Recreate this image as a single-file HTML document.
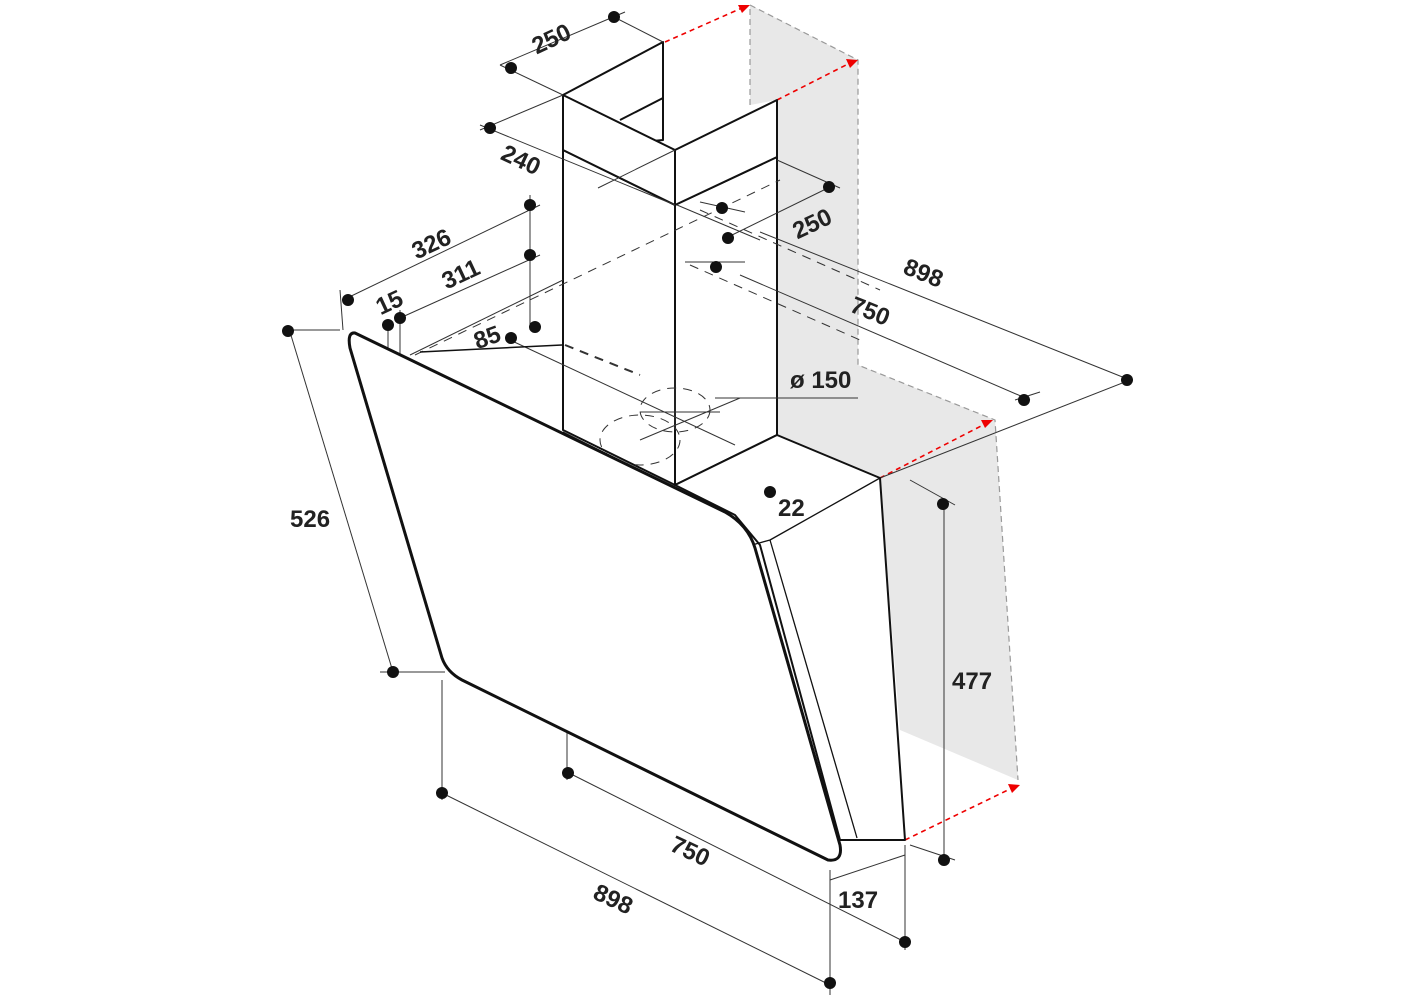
<!DOCTYPE html>
<html><head><style>body{margin:0;background:#fff}svg{display:block}text{font-family:"Liberation Sans",sans-serif;font-weight:bold;font-size:24px;fill:#222}</style></head><body>
<svg width="1425" height="1000" viewBox="0 0 1425 1000" xmlns="http://www.w3.org/2000/svg">
<polygon points="750,5 858,60 858,365 995,420 1018,780 900,730 880,480 777,435 777,100 750,105" fill="#e8e8e8"/>
<g stroke="#999" stroke-dasharray="6,4" fill="none" stroke-width="1.2">
<polyline points="750,105 750,5 858,60 858,365 995,420 1018,780"/>
</g>
<g stroke="#e00" stroke-width="1.6" stroke-dasharray="5,4" fill="none">
<line x1="665" y1="42" x2="742" y2="8"/><line x1="777" y1="100" x2="850" y2="63"/>
<line x1="880" y1="478" x2="985" y2="424"/><line x1="905" y1="840" x2="1012" y2="788"/>
</g>
<g fill="#e00"><polygon points="750,5 738,5 742,13"/><polygon points="858,60 846,59 850,68"/><polygon points="993,420 981,420 985,428"/><polygon points="1020,785 1008,784 1012,793"/></g>
<!-- chimney (transparent) -->
<g stroke="#111" stroke-width="2" fill="none" stroke-linejoin="round">
<polygon points="563,95 663,42 663,140 563,150" fill="#fff"/>
<polygon points="563,150 675,205 675,485 563,430"/>
<polygon points="675,205 777,157 777,435 675,485"/>
<polygon points="563,95 675,150 675,205 563,150" fill="#fff"/>
<polygon points="675,150 777,100 777,157 675,205" fill="#fff"/>
<line x1="620" y1="120" x2="663" y2="98"/>
</g>
<!-- thin dimension lines -->
<g stroke="#333" stroke-width="1" fill="none">
<line x1="500" y1="65" x2="625" y2="12"/><line x1="500" y1="65" x2="563" y2="95"/><line x1="610" y1="15" x2="663" y2="42"/>
<line x1="480" y1="130" x2="563" y2="95"/><line x1="480" y1="125" x2="675" y2="205"/>
<line x1="598" y1="188" x2="675" y2="150"/>
<line x1="777" y1="160" x2="840" y2="188"/><line x1="728" y1="237" x2="830" y2="187"/>
<line x1="677" y1="205" x2="760" y2="240"/><line x1="700" y1="202" x2="745" y2="212"/><line x1="760" y1="232" x2="1130" y2="380"/>
<line x1="685" y1="262" x2="745" y2="262"/>
<line x1="740" y1="275" x2="1030" y2="400"/>
<line x1="343" y1="300" x2="540" y2="205"/><line x1="400" y1="318" x2="540" y2="255"/>
<line x1="530" y1="195" x2="530" y2="330"/>
<line x1="340" y1="290" x2="343" y2="330"/>
<line x1="388" y1="325" x2="388" y2="360"/><line x1="400" y1="310" x2="400" y2="365"/>
<line x1="410" y1="355" x2="563" y2="280" /><line x1="510" y1="340" x2="735" y2="445"/>
<line x1="285" y1="330" x2="340" y2="330"/><line x1="290" y1="332" x2="393" y2="672"/><line x1="380" y1="672" x2="445" y2="672"/>
<line x1="442" y1="680" x2="442" y2="800"/><line x1="442" y1="793" x2="830" y2="985"/>
<line x1="830" y1="870" x2="830" y2="995"/><line x1="567" y1="690" x2="567" y2="780"/>
<line x1="567" y1="772" x2="905" y2="942"/><line x1="905" y1="845" x2="905" y2="950"/>
<line x1="830" y1="880" x2="905" y2="855"/>
<line x1="910" y1="480" x2="955" y2="505"/><line x1="944" y1="500" x2="944" y2="865"/><line x1="910" y1="845" x2="955" y2="860"/>
<line x1="770" y1="495" x2="770" y2="545"/><line x1="775" y1="540" x2="880" y2="495"/>
<line x1="880" y1="478" x2="1130" y2="380"/><line x1="1015" y1="400" x2="1040" y2="392"/>
<line x1="715" y1="398" x2="858" y2="398"/><line x1="640" y1="440" x2="740" y2="398"/>
<line x1="675" y1="360" x2="675" y2="430"/><line x1="640" y1="412" x2="720" y2="412"/>
</g>
<g stroke="#333" stroke-width="1" fill="none" stroke-dasharray="9,7">
<line x1="415" y1="355" x2="780" y2="180"/><line x1="565" y1="345" x2="640" y2="375" stroke-width="2"/>
<line x1="480" y1="667" x2="570" y2="675"/><line x1="567" y1="610" x2="570" y2="672"/>
<line x1="395" y1="360" x2="495" y2="415"/><line x1="395" y1="370" x2="480" y2="420"/>
<line x1="700" y1="210" x2="880" y2="290"/><line x1="690" y1="265" x2="860" y2="340"/>
<ellipse cx="675" cy="410" rx="35" ry="22"/><ellipse cx="640" cy="440" rx="40" ry="25"/>
</g>
<g stroke="#111" stroke-width="2" fill="#fff" stroke-linejoin="round">
<!-- hood body -->
<polygon points="675,485 777,435 880,478 905,840 840,840 760,545 735,515"/>
<line x1="770" y1="540" x2="880" y2="478" stroke-width="1.3"/>
<line x1="770" y1="540" x2="857" y2="838" stroke-width="1.3"/>
<line x1="752" y1="545" x2="770" y2="540" stroke-width="1.3"/>
<line x1="420" y1="352" x2="562" y2="345" stroke-width="1.5"/>
<!-- glass -->
<path d="M355,333 L725,512 Q748,525 755,548 L840,845 Q843,862 828,860 L462,680 Q447,672 442,658 L350,348 Q347,332 355,333 Z" stroke-width="3"/>
</g>
<g stroke="#111" stroke-width="1.2" fill="none"><line x1="563" y1="432" x2="675" y2="488"/></g>
<!-- dots -->
<g fill="#111">
<circle cx="614" cy="17" r="6"/><circle cx="511" cy="68" r="6"/><circle cx="490" cy="128" r="6"/>
<circle cx="530" cy="205" r="6"/><circle cx="530" cy="255" r="6"/><circle cx="535" cy="327" r="6"/><circle cx="511" cy="338" r="6"/>
<circle cx="348" cy="300" r="6"/><circle cx="388" cy="325" r="6"/><circle cx="400" cy="318" r="6"/>
<circle cx="288" cy="331" r="6"/><circle cx="393" cy="672" r="6"/>
<circle cx="829" cy="187" r="6"/><circle cx="722" cy="208" r="6"/><circle cx="728" cy="238" r="6"/><circle cx="716" cy="267" r="6"/>
<circle cx="1127" cy="380" r="6"/><circle cx="1024" cy="400" r="6"/>
<circle cx="770" cy="492" r="6"/><circle cx="943" cy="504" r="6"/><circle cx="944" cy="860" r="6"/>
<circle cx="442" cy="793" r="6"/><circle cx="568" cy="773" r="6"/><circle cx="905" cy="942" r="6"/><circle cx="830" cy="983" r="6"/>
</g>
<text x="530" y="45" transform="rotate(-25 555 35)">250</text>
<text x="500" y="170" transform="rotate(25 525 163)">240</text>
<text x="790" y="230" transform="rotate(-25 815 218)">250</text>
<text x="410" y="250" transform="rotate(-25 435 240)">326</text>
<text x="440" y="280" transform="rotate(-25 465 270)">311</text>
<text x="375" y="310" transform="rotate(-25 390 300)">15</text>
<text x="473" y="345" transform="rotate(-20 488 335)">85</text>
<text x="903" y="283" transform="rotate(22 928 275)">898</text>
<text x="850" y="320" transform="rotate(22 872 312)">750</text>
<text x="790" y="388">ø 150</text>
<text x="290" y="527">526</text>
<text x="778" y="516">22</text>
<text x="952" y="689">477</text>
<text x="670" y="860" transform="rotate(25 692 852)">750</text>
<text x="593" y="908" transform="rotate(25 615 900)">898</text>
<text x="838" y="908">137</text>
</svg>
</body></html>
